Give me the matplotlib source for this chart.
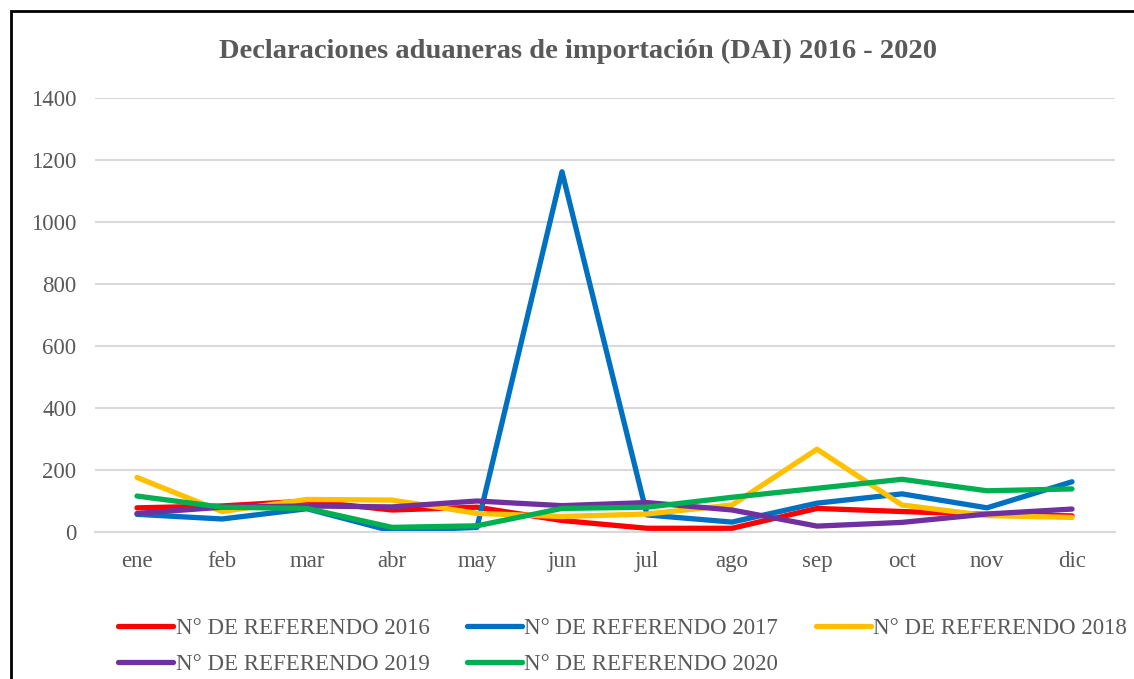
import matplotlib
matplotlib.use("Agg")
import matplotlib.pyplot as plt
from matplotlib.patches import Rectangle

months = ["ene", "feb", "mar", "abr", "may", "jun", "jul", "ago", "sep", "oct", "nov", "dic"]
s2016 = [78, 84, 100, 71, 80, 37, 12, 12, 76, 66, 57, 52]
s2017 = [57, 42, 75, 3, 15, 1162, 55, 32, 93, 123, 78, 162]
s2018 = [176, 66, 105, 103, 60, 50, 58, 87, 267, 87, 53, 47]
s2019 = [60, 80, 84, 81, 100, 85, 95, 71, 19, 31, 58, 74]
s2020 = [116, 80, 76, 15, 20, 76, 80, 112, 141, 170, 133, 139]
labels = ["N° DE REFERENDO 2016", "N° DE REFERENDO 2017", "N° DE REFERENDO 2018",
          "N° DE REFERENDO 2019", "N° DE REFERENDO 2020"]
colors = ["#FF0000", "#0070C0", "#FFC000", "#7030A0", "#00B050"]
title = "Declaraciones aduaneras de importación (DAI) 2016 - 2020"

plt.rcParams['font.family'] = ['Liberation Serif', 'DejaVu Serif']
W, H = 1134, 679
fig = plt.figure(figsize=(W / 100, H / 100), dpi=100)
ax = fig.add_axes([94.5 / W, 1 - 532 / H, (1114.5 - 94.5) / W, (532 - 98) / H])

series = [s2016, s2017, s2018, s2019, s2020]
x = list(range(len(months)))
handles = []
for s, c, l in zip(series, colors, labels):
    h, = ax.plot(x, s, color=c, lw=3.8, label=l, solid_capstyle='round', solid_joinstyle='round')
    handles.append(h)

ax.set_xlim(-0.5, len(months) - 0.5)
ax.set_ylim(0, 1400)
ax.set_yticks(range(0, 1401, 200))
ax.set_xticks(x)
ax.set_xticklabels(months)
ax.grid(axis='y', color='#D9D9D9', lw=1.5)
ax.set_axisbelow(True)
for sp in ax.spines.values():
    sp.set_visible(False)
ax.spines['bottom'].set_visible(True)
ax.spines['bottom'].set_color('#D9D9D9')
ax.spines['bottom'].set_linewidth(1.5)
ax.tick_params(axis='both', length=0, labelsize=16.5, colors='#595959')
ax.tick_params(axis='y', pad=13)
ax.tick_params(axis='x', pad=14)

fig.text(578 / W, 1 - 51 / H, title, ha='center', va='center',
         fontsize=20.5, fontweight='bold', color='#595959')

order = [0, 3, 1, 4, 2]
fig.legend([handles[i] for i in order], [labels[i] for i in order], ncol=3,
           loc='upper left', bbox_to_anchor=(118 / W, 1 - 618 / H), frameon=False,
           fontsize=16.5, handlelength=2.4, handletextpad=0.12, columnspacing=1.62,
           labelspacing=0.63, labelcolor='#595959', borderaxespad=0, borderpad=0)

fig.patches.append(Rectangle((10.5 / W, -0.1), 1.2, 1 - 11 / H + 0.1, transform=fig.transFigure,
                             fill=False, edgecolor='black', lw=2, zorder=10))

fig.savefig("out.png", dpi=100)
